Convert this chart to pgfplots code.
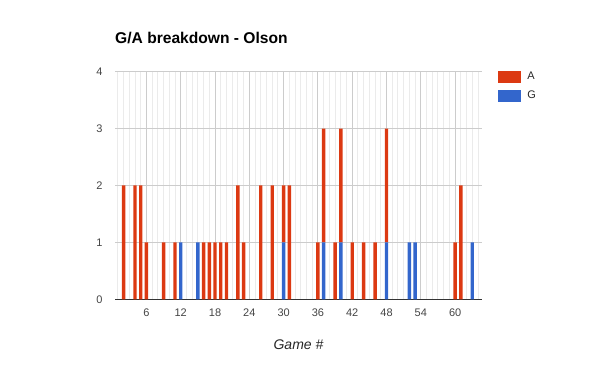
\documentclass[border=0pt]{standalone}
\usepackage{fontspec}
\setmainfont{Liberation Sans}
\usepackage{pgfplots}
\pgfplotsset{compat=1.18}
\usepackage{pgfplotstable}
\definecolor{cA}{HTML}{DC3912}
\definecolor{cG}{HTML}{3366CC}
\definecolor{majg}{HTML}{CCCCCC}
\definecolor{ming}{HTML}{EBEBEB}
\definecolor{tickc}{HTML}{444444}
\definecolor{axc}{HTML}{333333}
\pgfplotstableread{
game A G
2 2 0
4 2 0
5 2 0
6 1 0
9 1 0
11 1 0
12 0 1
15 0 1
16 1 0
17 1 0
18 1 0
19 1 0
20 1 0
22 2 0
23 1 0
26 2 0
28 2 0
30 1 1
31 2 0
36 1 0
37 2 1
39 1 0
40 2 1
42 1 0
44 1 0
46 1 0
48 2 1
52 0 1
53 0 1
60 1 0
61 2 0
63 0 1
}\data
\begin{document}
\begin{tikzpicture}
\path[use as bounding box] (0pt,0pt) rectangle (600pt,371pt);
\begin{axis}[
  at={(115pt,71.7pt)}, anchor=south west,
  scale only axis, width=367pt, height=227.6pt,
  xmin=0.5, xmax=64.7, ymin=0, ymax=4,
  xtick={6,12,...,60}, minor xtick={1,...,64}, ytick={0,...,4},
  grid=both,
  major grid style={draw=majg, line width=1pt},
  minor grid style={draw=ming, line width=1pt},
  axis line style={draw=none},
  tick style={draw=none}, major tick length=0pt, minor tick length=0pt,
  ticklabel style={font=\fontsize{11}{13}\selectfont, text=tickc},
  /pgf/number format/assume math mode=true,
  xticklabel style={yshift=-6pt},
  yticklabel style={xshift=-9pt},
  ybar stacked, bar width=3.4pt,
  xlabel={Game \#},
  xlabel style={at={(axis description cs:0.5,-0.2008)}, anchor=center, font=\itshape\fontsize{14}{16}\selectfont, text=black!85},
  title={G/A breakdown - Olson},
  title style={at={(axis description cs:0,1.0984)}, anchor=base west, inner sep=0pt, font=\bfseries\fontsize{15.6}{18}\selectfont},
  reverse legend,
  legend image code/.code={\fill[#1] (0pt,-5.85pt) rectangle (23.4pt,5.85pt);},
  legend style={at={(axis description cs:1.0436,1.003)}, anchor=north west, draw=none, fill=none, inner sep=0pt, outer sep=0pt,
    font=\fontsize{11}{13}\selectfont, text=black!85, row sep=7.3pt, cells={anchor=west},
    nodes={inner sep=0pt}, /tikz/every odd column/.append style={column sep=6pt}},
]
\addplot[fill=cG, draw=none] table[x=game, y=G] {\data};
\addplot[fill=cA, draw=none] table[x=game, y=A] {\data};
\legend{G,A}
\draw[axc, line width=1.2pt] (rel axis cs:0,0) -- (rel axis cs:1,0);
\end{axis}
\end{tikzpicture}
\end{document}
